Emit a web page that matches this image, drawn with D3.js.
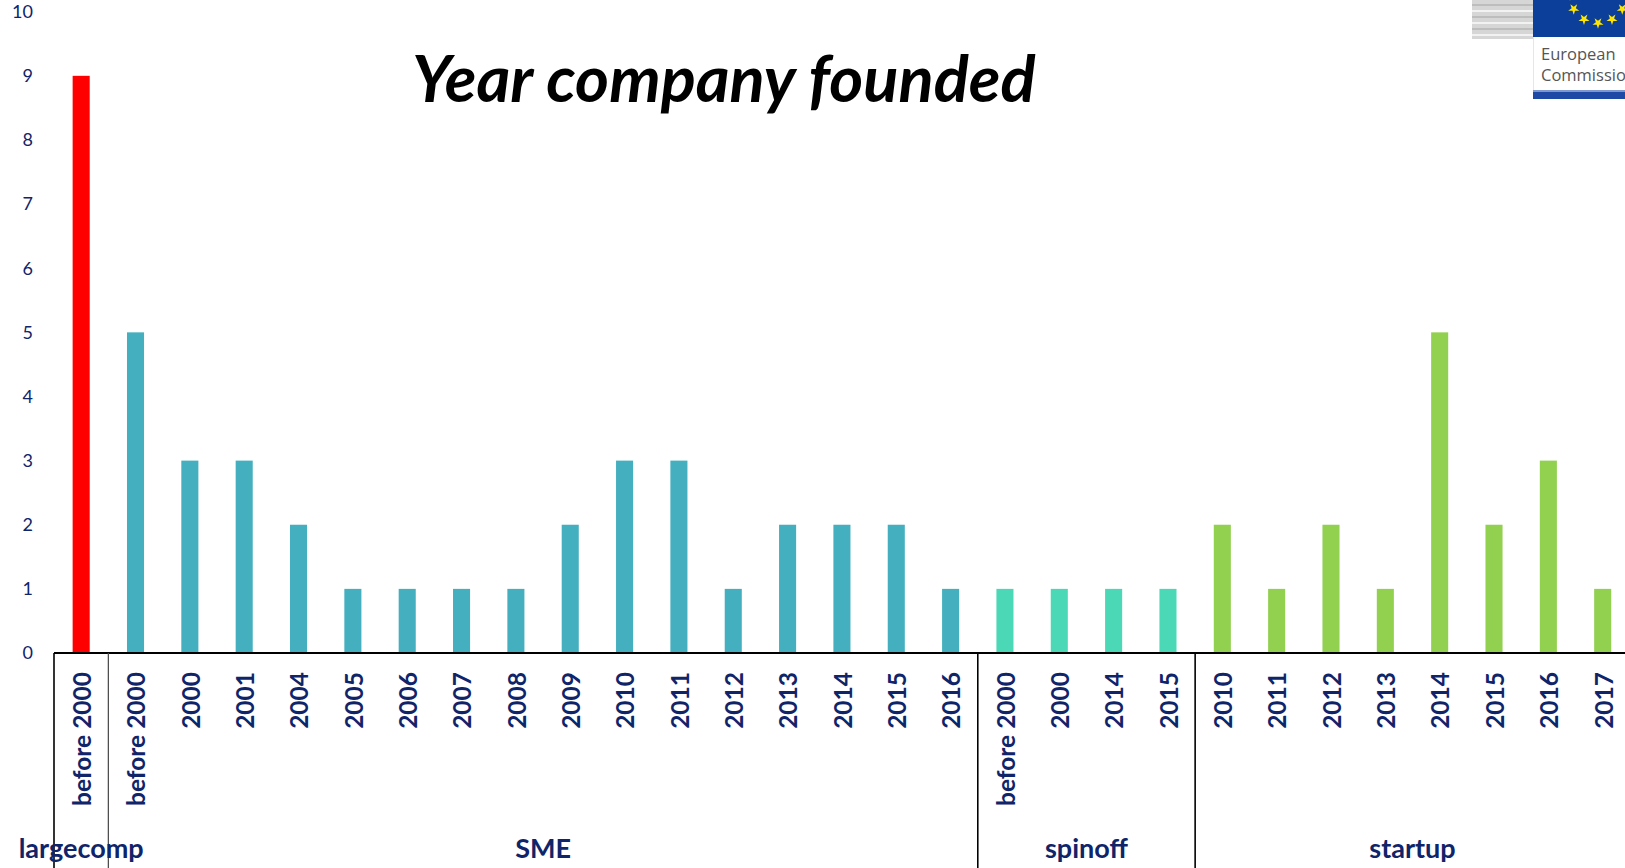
<!DOCTYPE html>
<html>
<head>
<meta charset="utf-8">
<script src="https://cdn.jsdelivr.net/npm/d3@7"></script>
<style>
  html, body { margin: 0; padding: 0; background: #fff; overflow: hidden; }
  svg { display: block; }
</style>
</head>
<body>
<svg id="chart" width="1625" height="868"></svg>
<script>
// ---- data ----
const groups = ["largecomp", "SME", "spinoff", "startup"];
const largecompYears = ["before 2000"];
const largecompValues = [9];
const smeYears = ["before 2000","2000","2001","2004","2005","2006","2007","2008","2009","2010","2011","2012","2013","2014","2015","2016"];
const smeValues = [5,3,3,2,1,1,1,1,2,3,3,1,2,2,2,1];
const spinoffYears = ["before 2000","2000","2014","2015"];
const spinoffValues = [1,1,1,1];
const startupYears = ["2010","2011","2012","2013","2014","2015","2016","2017"];
const startupValues = [2,1,2,1,5,2,3,1];
const yTicks = [0,1,2,3,4,5,6,7,8,9,10];
const groupColors = ["#ff0000", "#44afbe", "#4ad8b6", "#92d050"];

const groupYears = [largecompYears, smeYears, spinoffYears, startupYears];
const groupValues = [largecompValues, smeValues, spinoffValues, startupValues];

const rows = [];
groups.forEach((g, gi) => {
  groupYears[gi].forEach((yr, i) => {
    rows.push({ group: g, gi, year: yr, value: groupValues[gi][i], key: g + "|" + yr });
  });
});

// ---- layout ----
const svg = d3.select("#chart");
const x0 = 54, step = 54.34;
const baseY = 653;
const navy = "#10246a";

const x = d3.scaleBand()
  .domain(rows.map(d => d.key))
  .range([x0, x0 + rows.length * step])
  .paddingInner(0.686)
  .paddingOuter(0.343);

const y = d3.scaleLinear().domain([0, 9]).range([baseY, baseY - 9 * 64.13]);

// title
svg.append("text")
  .attr("x", 412).attr("y", 102)
  .attr("font-family", "Lato, 'Open Sans', sans-serif")
  .attr("font-weight", "bold").attr("font-style", "italic")
  .attr("font-size", 65).attr("fill", "#000")
  .text("Year company founded");

// y tick labels (no axis line)
svg.append("g").selectAll("text").data(yTicks).join("text")
  .attr("x", 33).attr("y", d => y(d))
  .attr("dy", "0.35em")
  .attr("text-anchor", "end")
  .attr("font-family", "Lato, 'Open Sans', sans-serif")
  .attr("font-size", 18).attr("fill", navy)
  .text(d => d);

// bars
svg.append("g").selectAll("rect").data(rows).join("rect")
  .attr("x", d => x(d.key))
  .attr("width", x.bandwidth())
  .attr("y", d => y(d.value))
  .attr("height", d => y(0) - y(d.value))
  .attr("fill", d => groupColors[d.gi]);

// x axis line
svg.append("line")
  .attr("x1", x0).attr("x2", 1625)
  .attr("y1", baseY).attr("y2", baseY)
  .attr("stroke", "#000").attr("stroke-width", 2.2);

// category labels
svg.append("g").selectAll("text").data(rows).join("text")
  .attr("transform", d => `translate(${x(d.key) + x.bandwidth() / 2 + 1},672) rotate(-90)`)
  .attr("text-anchor", "end")
  .attr("dy", "0.36em")
  .attr("font-family", "Lato, 'Open Sans', sans-serif")
  .attr("font-weight", "bold")
  .attr("font-size", 24.5).attr("fill", navy)
  .text(d => d.year);

// group separators and labels
let idx = 0;
const bounds = [];
groups.forEach((g, gi) => {
  const start = idx;
  idx += groupYears[gi].length;
  bounds.push({ g, start, end: idx });
});
const sepIdx = [0].concat(bounds.map(b => b.end));
svg.append("g").selectAll("line").data(sepIdx).join("line")
  .attr("x1", d => x0 + d * step).attr("x2", d => x0 + d * step)
  .attr("y1", baseY).attr("y2", 868)
  .attr("stroke", (d, i) => i === 1 ? "#444" : "#000")
  .attr("stroke-width", (d, i) => i === 1 ? 1.2 : 1.6);

svg.append("g").selectAll("text").data(bounds).join("text")
  .attr("x", d => x0 + (d.start + d.end) / 2 * step)
  .attr("y", 858)
  .attr("text-anchor", "middle")
  .attr("font-family", "Lato, 'Open Sans', sans-serif")
  .attr("font-weight", "bold")
  .attr("font-size", 27).attr("fill", navy)
  .text(d => d.g);

// ---- EU logo (decoration) ----
const logo = svg.append("g");
logo.append("rect").attr("x", 1472).attr("y", 0).attr("width", 61).attr("height", 39).attr("fill", "#d6d6d6");
[4, 10, 16, 22, 28, 34].forEach((yy, i) => {
  logo.append("rect").attr("x", 1472).attr("y", yy).attr("width", 61).attr("height", 2).attr("fill", i % 2 ? "#f2f2f2" : "#bdbdbd");
});
logo.append("rect").attr("x", 1533).attr("y", 0).attr("width", 92).attr("height", 37).attr("fill", "#0b3f9a");
const star = d3.symbol().type(d3.symbolStar).size(38);
d3.range(12).forEach(k => {
  const a = k * Math.PI / 6;
  const sx = 1598 + 28 * Math.sin(a), sy = -5 + 28 * Math.cos(a);
  logo.append("path").attr("d", star()).attr("transform", `translate(${sx},${sy}) rotate(180)`).attr("fill", "#ffe600");
});
logo.append("line").attr("x1", 1533.5).attr("x2", 1533.5).attr("y1", 37).attr("y2", 91).attr("stroke", "#e6e6e6");
logo.append("text").attr("x", 1541).attr("y", 60).attr("font-family", "'Open Sans', sans-serif").attr("font-size", 16.5).attr("fill", "#555").text("European");
logo.append("text").attr("x", 1541).attr("y", 81).attr("font-family", "'Open Sans', sans-serif").attr("font-size", 16.5).attr("fill", "#555").text("Commission");
logo.append("rect").attr("x", 1533).attr("y", 90).attr("width", 92).attr("height", 3).attr("fill", "#7d98cf");
logo.append("rect").attr("x", 1533).attr("y", 92).attr("width", 92).attr("height", 7).attr("fill", "#1e4aa6");
</script>
</body>
</html>
